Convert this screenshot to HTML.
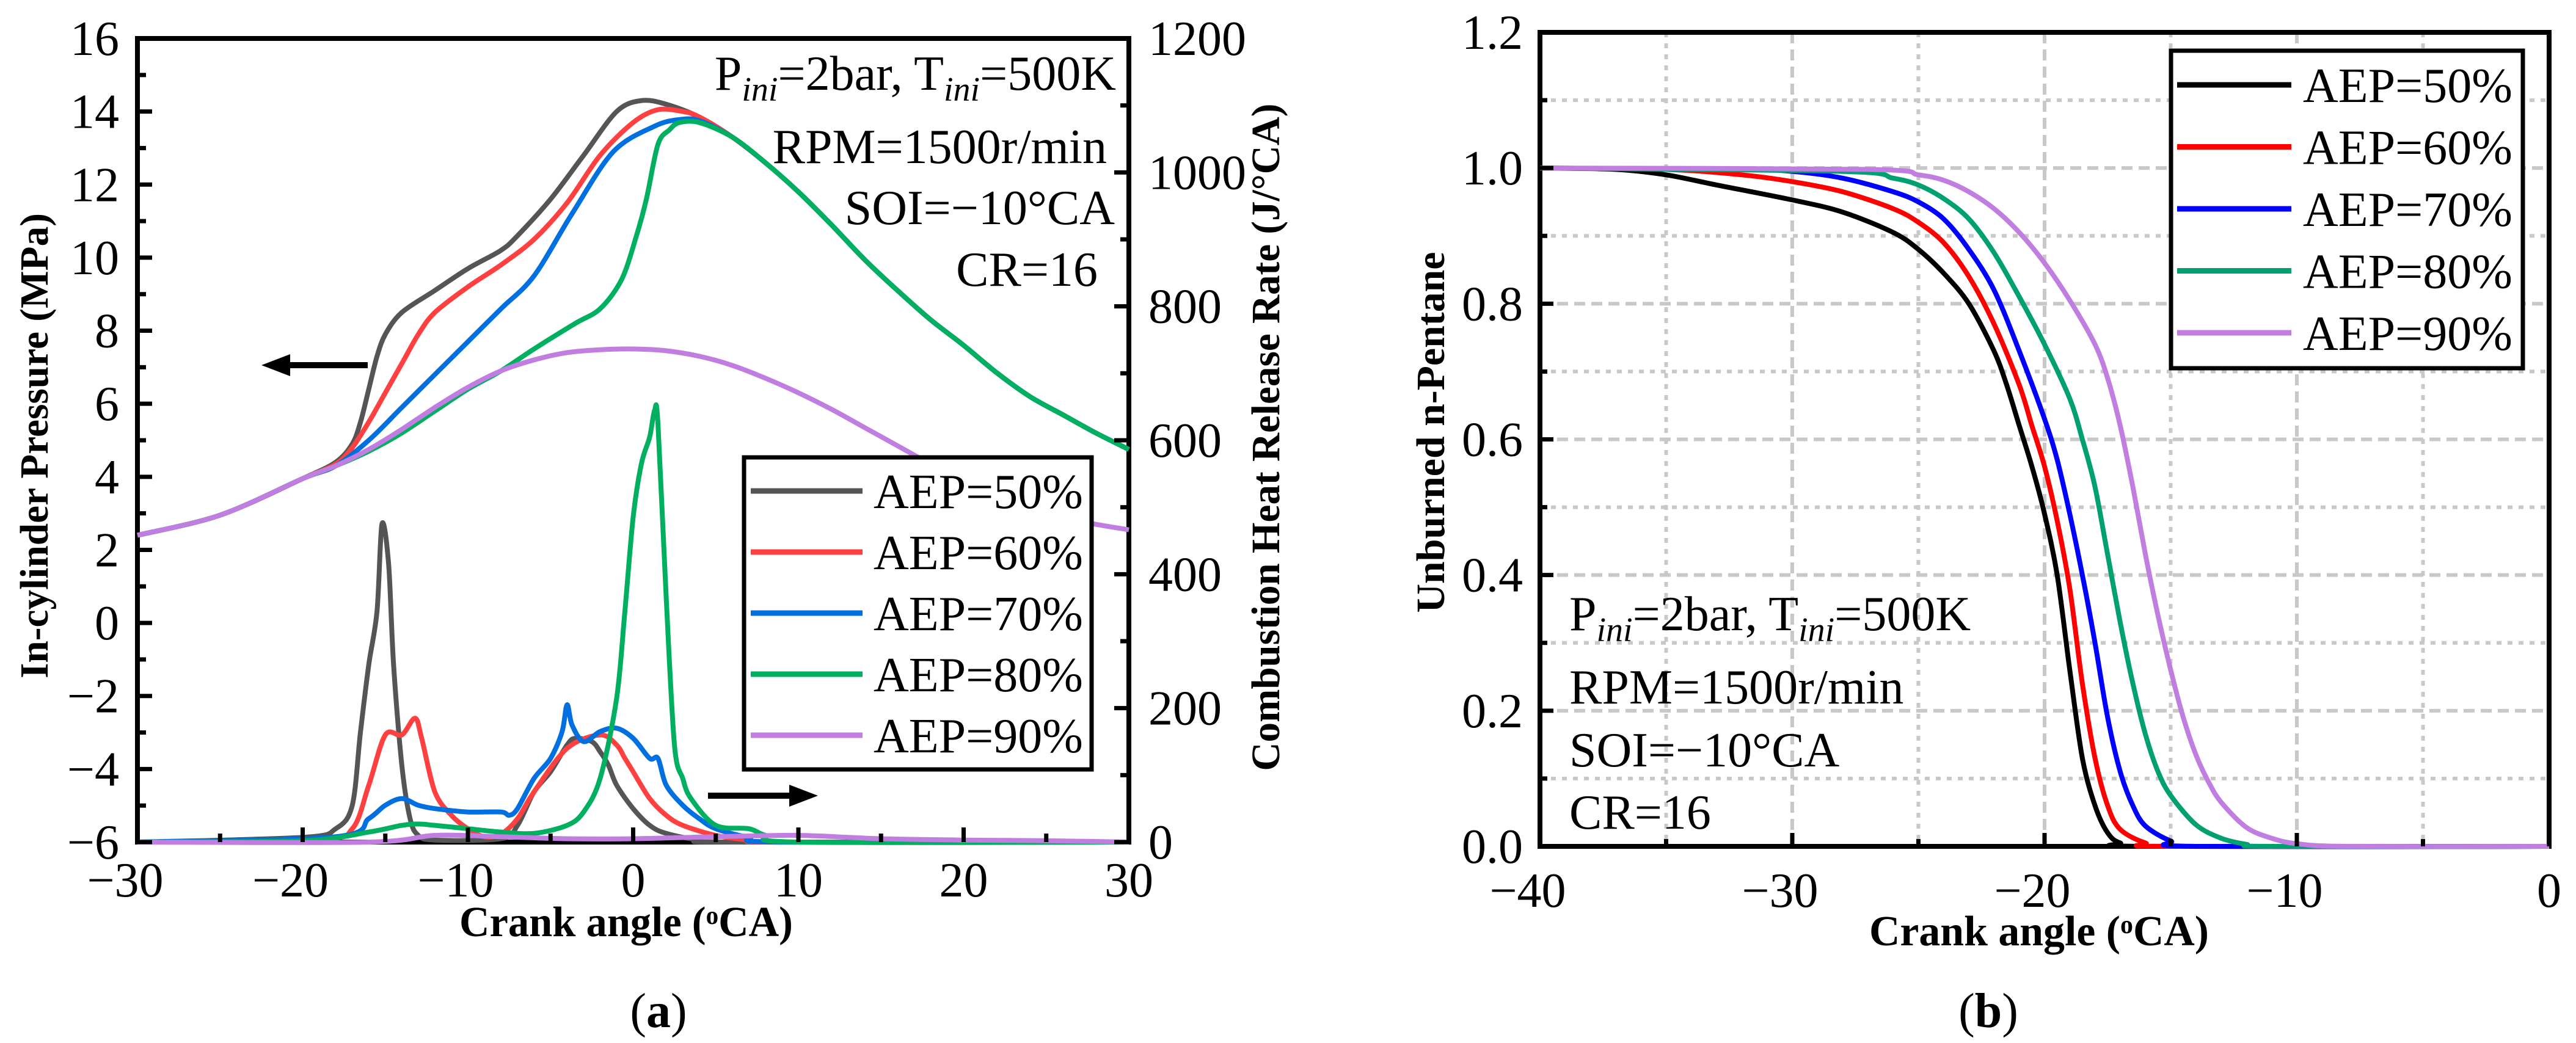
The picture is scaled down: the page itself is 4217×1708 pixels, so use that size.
<!DOCTYPE html>
<html><head><meta charset="utf-8"><style>
html,body{margin:0;padding:0;background:#fff;}
svg, svg text{font-family:"Liberation Serif","DejaVu Serif","Times New Roman",serif;}
</style></head><body>
<svg id="fig" width="4217" height="1703" viewBox="0 0 4217 1703" xmlns="http://www.w3.org/2000/svg" font-family="Liberation Serif, DejaVu Serif, serif">
<g id="pa"></g>
<g id="pb"></g>
</svg>
<script>
// ---------- Panel (a) data ----------
const aSeriesNames = ["AEP=50%","AEP=60%","AEP=70%","AEP=80%","AEP=90%"];
const aColors = ["#555555","#ff4040","#0070e0","#00b060","#c07ee0"];
const aXTicks = [-30,-20,-10,0,10,20,30];
const aYTicks = [-6,-4,-2,0,2,4,6,8,10,12,14,16];
const aY2Ticks = [0,200,400,600,800,1000,1200];
const tailX = [6,8,10,12,14,16,18,20,22,24,26,28,30];
const tailP = [13.3,12.6,11.8,10.9,9.95,9.1,8.3,7.6,6.85,6.2,5.7,5.2,4.75];
const p50x = [-30,-25,-20,-18,-17,-16.5,-16,-15.5,-15,-14,-12,-10,-8,-7,-5,-3,-1,0.5,2,4];
const p50y = [2.4,2.95,3.95,4.4,4.9,5.5,6.4,7.3,7.9,8.5,9.1,9.7,10.2,10.6,11.6,12.8,14.0,14.3,14.2,13.85];
const p60x = [-30,-25,-20,-18,-17,-16,-15,-14,-13,-12,-10,-8,-6,-4,-2,0,1.5,3,4];
const p60y = [2.4,2.95,3.95,4.35,4.8,5.5,6.3,7.1,7.9,8.5,9.2,9.8,10.5,11.5,12.8,13.7,14.05,14.0,13.85];
const p70x = [-30,-25,-20,-18,-16,-14,-12,-10,-8,-6,-3.7,-1.2,1.3,2.8,4];
const p70y = [2.4,2.95,3.95,4.3,5.0,5.9,6.8,7.7,8.6,9.5,11.2,12.9,13.6,13.78,13.75];
const p80x = [-30,-25,-20,-18,-16,-14,-12,-10,-8,-6,-3.5,-2,-0.7,0.2,0.8,1.5,2.2,2.8,4];
const p80y = [2.4,2.95,3.95,4.3,4.7,5.2,5.8,6.4,6.9,7.5,8.2,8.6,9.4,10.6,11.6,13.1,13.5,13.7,13.7];
const p90x = [-30,-25,-20,-18,-16,-14,-12,-10,-8,-6,-4,-2,0,2,4,6,8,10,12,14,16,18,20,22,24,26,28,30];
const p90y = [2.4,2.95,3.95,4.3,4.75,5.3,5.9,6.45,6.9,7.2,7.4,7.48,7.5,7.45,7.3,7.05,6.7,6.3,5.85,5.35,4.85,4.35,3.9,3.5,3.15,2.9,2.7,2.55];
const h50x = [-30,-20,-18,-17,-16.5,-16,-15.5,-15.2,-14.8,-14.5,-14,-13.5,-13,-12,-8,-7,-6,-5,-4,-3.5,-2.5,-2,-1.5,-1,0,1,2,4,6,30];
const h50y = [0,7,20,55,165,265,345,475,415,265,115,35,10,3,5,25,75,105,145,155,150,135,115,85,50,25,13,3,0,0];
const h60x = [-30,-19,-17,-16,-15,-14,-13.2,-12.8,-12,-11,-10,-9,-8,-7,-6,-4,-2,-1,-0.5,0,1,2,3,5,7,9,30];
const h60y = [0,5,20,85,160,160,185,155,75,40,20,8,12,35,75,140,160,145,125,105,65,40,25,10,3,0,0];
const h70x = [-30,-18,-16,-15,-14,-13,-12,-10,-8,-7.5,-7,-6,-5,-4.3,-4,-3.7,-3,-2,-1,0,1,1.5,2,3,4,5,7,9,30];
const h70y = [0,8,35,55,65,55,50,45,45,40,50,95,125,165,205,175,150,165,170,155,125,125,85,55,35,20,7,0,0];
const h80x = [-30,-20,-16,-14,-13,-12,-10,-8,-6,-4,-3,-2,-1,-0.5,0,0.5,1,1.3,1.5,2,2.5,3,3.5,5,7,8,10,30];
const h80y = [0,2,15,25,27,25,20,15,13,25,45,95,215,345,485,565,605,645,625,365,145,95,65,25,20,10,0,0];
const h90x = [-30,-16,-12,-8,-4,0,5,10,15,20,25,30];
const h90y = [0,0,10,8,5,5,8,10,5,3,2,0];

// ---------- Panel (b) data ----------
const bColors = ["#000000","#ff0000","#0000ff","#00a070","#c07ee0"];
const bXTicks = [-40,-30,-20,-10,0];
const bYTicks = [0,0.2,0.4,0.6,0.8,1.0,1.2];
const u50x = [-40,-37,-35,-33,-30,-28,-26,-25,-24,-23,-22,-21.5,-21,-20.5,-20,-19.5,-19,-18.5,-18,-17.5,-17,-16,0];
const u50y = [1,0.998,0.99,0.975,0.953,0.935,0.905,0.88,0.845,0.80,0.73,0.68,0.62,0.56,0.49,0.40,0.26,0.13,0.06,0.02,0.005,0,0];
const u60x = [-40,-35,-32,-30,-28,-26,-25,-24,-23,-22,-21,-20.5,-20,-19.5,-19,-18.5,-18,-17.5,-17,-16,-15,0];
const u60y = [1,0.998,0.99,0.98,0.965,0.94,0.92,0.89,0.84,0.77,0.68,0.62,0.56,0.48,0.38,0.24,0.13,0.06,0.025,0.005,0,0];
const u70x = [-40,-32,-30,-28,-26,-25,-24,-23,-22,-21,-20,-19.5,-19,-18.5,-18,-17.5,-17,-16.5,-16,-15,-14,0];
const u70y = [1,0.998,0.995,0.985,0.965,0.95,0.925,0.88,0.82,0.73,0.63,0.57,0.49,0.40,0.30,0.19,0.11,0.06,0.03,0.008,0,0];
const u80x = [-40,-28,-26,-25,-24,-23,-22,-21,-20,-19,-18.5,-18,-17.5,-17,-16.5,-16,-15.5,-15,-14,-13,-12,-11,0];
const u80y = [1,0.995,0.985,0.975,0.955,0.925,0.875,0.81,0.74,0.66,0.6,0.53,0.43,0.33,0.24,0.165,0.11,0.075,0.032,0.012,0.003,0,0];
const u90x = [-40,-27,-25,-24,-23,-22,-21,-20,-19,-18,-17.5,-17,-16.5,-16,-15.5,-15,-14.5,-14,-13.5,-13,-12,-11,-10,-8,0];
const u90y = [1,0.998,0.99,0.982,0.965,0.94,0.905,0.86,0.805,0.74,0.69,0.62,0.53,0.43,0.34,0.26,0.19,0.135,0.095,0.065,0.028,0.012,0.004,0,0];

const NS="http://www.w3.org/2000/svg";
const FONT="Liberation Serif, DejaVu Serif, serif";
function mk(tag,attrs,parent){const e=document.createElementNS(NS,tag);for(const k in attrs)e.setAttribute(k,attrs[k]);if(tag==='text')e.setAttribute('font-family',FONT);parent.appendChild(e);return e;}
function smooth(pts){
  let d="M"+pts[0][0].toFixed(1)+","+pts[0][1].toFixed(1);
  for(let i=0;i<pts.length-1;i++){
    const p0=pts[Math.max(0,i-1)],p1=pts[i],p2=pts[i+1],p3=pts[Math.min(pts.length-1,i+2)];
    const t=0.16;
    const c1=[p1[0]+(p2[0]-p0[0])*t,p1[1]+(p2[1]-p0[1])*t];
    const c2=[p2[0]-(p3[0]-p1[0])*t,p2[1]-(p3[1]-p1[1])*t];
    d+=" C"+c1[0].toFixed(1)+","+c1[1].toFixed(1)+" "+c2[0].toFixed(1)+","+c2[1].toFixed(1)+" "+p2[0].toFixed(1)+","+p2[1].toFixed(1);
  }
  return d;
}

// ================= Panel A =================
const A={x0:225,x1:1848,y0:63,y1:1379};
const ax=v=>A.x0+(v-(-30))/60*(A.x1-A.x0);
const ay=v=>A.y1-(v-(-6))/22*(A.y1-A.y0);
const ay2=v=>A.y1-v/1200*(A.y1-A.y0);
const pa=document.getElementById('pa');

const fa=mk('rect',{x:A.x0,y:A.y0,width:A.x1-A.x0,height:A.y1-A.y0,fill:"none",stroke:"#000","stroke-width":8},pa);


const curvesA=mk('g',{},pa);


const hrrX=[h50x,h60x,h70x,h80x,h90x], hrrY=[h50y,h60y,h70y,h80y,h90y];
const prX=[p50x,p60x,p70x,p80x,p90x], prY=[p50y,p60y,p70y,p80y,p90y];
for(let s=0;s<5;s++){
  const pts=hrrX[s].map((x,i)=>[ax(x),ay2(hrrY[s][i])]);
  const el=mk('path',{d:smooth(pts),fill:"none",stroke:aColors[s],"stroke-width":8,"stroke-linejoin":"round"},curvesA);
  
  
}
for(let s=0;s<5;s++){
  let xs=prX[s].slice(),ys=prY[s].slice();
  if(s<4){xs=xs.concat(tailX);ys=ys.concat(tailP);}
  const pts=xs.map((x,i)=>[ax(x),ay(ys[i])]);
  const el=mk('path',{d:smooth(pts),fill:"none",stroke:aColors[s],"stroke-width":8,"stroke-linejoin":"round"},curvesA);
  
  
}
for(let v=-6;v<=16;v+=1){const y=ay(v);mk('line',{x1:A.x0,x2:A.x0+(v%2===0?24:14),y1:y,y2:y,stroke:"#000","stroke-width":7},pa);}
for(let v=0;v<=1200;v+=100){const y=ay2(v);mk('line',{x1:A.x1,x2:A.x1-(v%200===0?24:14),y1:y,y2:y,stroke:"#000","stroke-width":7},pa);}
for(let v=-30;v<=30;v+=5){const x=ax(v);mk('line',{x1:x,x2:x,y1:A.y1,y2:A.y1-(v%10===0?24:14),stroke:"#000","stroke-width":7},pa);}
aYTicks.forEach(v=>{const t=mk('text',{x:195,y:ay(v)+27,"font-size":80,"text-anchor":"end"},pa);t.textContent=(v<0?"\u2212":"")+Math.abs(v);
  
  });
aY2Ticks.forEach(v=>{const t=mk('text',{x:1880,y:ay2(v)+27,"font-size":80},pa);t.textContent=v;
  
  });
aXTicks.forEach(v=>{const t=mk('text',{x:ax(v)-(v<0?20:0),y:1468,"font-size":80,"text-anchor":"middle"},pa);t.textContent=(v<0?"\u2212":"")+Math.abs(v);
  
  });
const lgA=mk('g',{},pa);


mk('rect',{x:1218,y:749,width:569,height:511,fill:"#fff",stroke:"#000","stroke-width":7},lgA);
aSeriesNames.forEach((n,i)=>{const y=804+i*100;
  const g=mk('g',{},lgA);
  
  
  mk('line',{x1:1229,x2:1412,y1:y,y2:y,stroke:aColors[i],"stroke-width":9},g);
  const t=mk('text',{x:1430,y:y+28,"font-size":80},g);t.textContent=n;});
const annA=[["RPM=1500r/min",1812,267],["SOI=\u221210\u00b0CA",1825,367],["CR=16",1797,468]];
const t0=mk('text',{x:1827,y:147,"font-size":80,"text-anchor":"end"},pa);


t0.innerHTML='P<tspan font-style="italic" font-size="56" dy="18">ini</tspan><tspan dy="-18">=2bar, T</tspan><tspan font-style="italic" font-size="56" dy="18">ini</tspan><tspan dy="-18">=500K</tspan>';
annA.forEach(a=>{const t=mk('text',{x:a[1],y:a[2],"font-size":80,"text-anchor":"end"},pa);t.textContent=a[0];
  
  });
mk('line',{x1:602,x2:465,y1:598,y2:598,stroke:"#000","stroke-width":10},pa);
mk('polygon',{points:"428,598 475,580 475,616",fill:"#000"},pa);
mk('line',{x1:1159,x2:1300,y1:1303,y2:1303,stroke:"#000","stroke-width":10},pa);
mk('polygon',{points:"1339,1303 1292,1285 1292,1321",fill:"#000"},pa);
const xta=mk('text',{x:1025,y:1533,"font-size":70,"font-weight":"bold","text-anchor":"middle",textLength:546,lengthAdjust:"spacingAndGlyphs"},pa);
xta.innerHTML='Crank angle  (<tspan font-size="42" dy="-20">o</tspan><tspan dy="20">CA)</tspan>';


const yta=mk('text',{x:0,y:0,"font-size":66,"font-weight":"bold","text-anchor":"middle",textLength:762,lengthAdjust:"spacingAndGlyphs",transform:"translate(78,730) rotate(-90)"},pa);
yta.textContent="In-cylinder Pressure (MPa)";


const y2ta=mk('text',{x:0,y:0,"font-size":66,"font-weight":"bold","text-anchor":"middle",textLength:1093,lengthAdjust:"spacingAndGlyphs",transform:"translate(2094,716) rotate(-90)"},pa);
y2ta.textContent="Combustion Heat Release Rate (J/\u00b0CA)";


const la=mk('text',{x:1078,y:1682,"font-size":80,"text-anchor":"middle"},pa);
la.innerHTML='(<tspan font-weight="bold">a</tspan>)';



// ================= Panel B =================
const B={x0:2521,x1:4173,y0:53,y1:1386};
const bx=v=>B.x0+(v+40)/40*(B.x1-B.x0);
const by=v=>B.y1-v/1.2*(B.y1-B.y0);
const pb=document.getElementById('pb');
const grid=mk('g',{},pb);


for(let v=-35;v<0;v+=5){const x=bx(v);mk('line',{x1:x,x2:x,y1:B.y0,y2:B.y1,stroke:"#c8c8c8","stroke-width":6,"stroke-dasharray":(v%10===0?"18,10":"8,10")},grid);}
for(let k=1;k<12;k++){const y=by(k/10);mk('line',{x1:B.x0,x2:B.x1,y1:y,y2:y,stroke:"#c8c8c8","stroke-width":6,"stroke-dasharray":(k%2===0?"18,10":"8,10")},grid);}
const fb=mk('rect',{x:B.x0,y:B.y0,width:B.x1-B.x0,height:B.y1-B.y0,fill:"none",stroke:"#000","stroke-width":8},pb);


const curvesB=mk('g',{},pb);


const uX=[u50x,u60x,u70x,u80x,u90x],uY=[u50y,u60y,u70y,u80y,u90y];
for(let s=0;s<5;s++){
  const pts=uX[s].map((x,i)=>[bx(x),by(uY[s][i])]);
  const el=mk('path',{d:smooth(pts),fill:"none",stroke:bColors[s],"stroke-width":8,"stroke-linejoin":"round"},curvesB);
  
  
}
for(let k=0;k<=12;k++){const y=by(k/10);mk('line',{x1:B.x0,x2:B.x0+(k%2===0?22:12),y1:y,y2:y,stroke:"#000","stroke-width":7},pb);}
for(let v=-40;v<=0;v+=5){const x=bx(v);mk('line',{x1:x,x2:x,y1:B.y1,y2:B.y1-(v%10===0?22:12),stroke:"#000","stroke-width":7},pb);}
bYTicks.forEach(v=>{const t=mk('text',{x:2493,y:by(v)+27,"font-size":80,"text-anchor":"end"},pb);t.textContent=v.toFixed(1);
  
  });
bXTicks.forEach(v=>{const t=mk('text',{x:bx(v)-(v<0?20:0),y:1485,"font-size":80,"text-anchor":"middle"},pb);t.textContent=(v<0?"\u2212":"")+Math.abs(v);
  
  });
const lgB=mk('g',{},pb);


mk('rect',{x:3554,y:83,width:576,height:520,fill:"#fff",stroke:"#000","stroke-width":7},lgB);
aSeriesNames.forEach((n,i)=>{const y=139+i*101.5;
  const g=mk('g',{},lgB);
  
  
  mk('line',{x1:3564,x2:3751,y1:y,y2:y,stroke:bColors[i],"stroke-width":9},g);
  const t=mk('text',{x:3770,y:y+28,"font-size":80},g);t.textContent=n;});
const tb0=mk('text',{x:2569,y:1032,"font-size":80},pb);


tb0.innerHTML='P<tspan font-style="italic" font-size="56" dy="18">ini</tspan><tspan dy="-18">=2bar, T</tspan><tspan font-style="italic" font-size="56" dy="18">ini</tspan><tspan dy="-18">=500K</tspan>';
[["RPM=1500r/min",1152],["SOI=\u221210\u00b0CA",1255],["CR=16",1357]].forEach(a=>{const t=mk('text',{x:2569,y:a[1],"font-size":80},pb);t.textContent=a[0];
  
  });
const xtb=mk('text',{x:3338,y:1548,"font-size":70,"font-weight":"bold","text-anchor":"middle",textLength:556,lengthAdjust:"spacingAndGlyphs"},pb);
xtb.innerHTML='Crank angle  (<tspan font-size="42" dy="-20">o</tspan><tspan dy="20">CA)</tspan>';


const ytb=mk('text',{x:0,y:0,"font-size":66,"font-weight":"bold","text-anchor":"middle",textLength:591,lengthAdjust:"spacingAndGlyphs",transform:"translate(2364,708) rotate(-90)"},pb);
ytb.textContent="Unburned n-Pentane";


const lb=mk('text',{x:3255,y:1682,"font-size":80,"text-anchor":"middle"},pb);
lb.innerHTML='(<tspan font-weight="bold">b</tspan>)';


</script>
</body></html>
